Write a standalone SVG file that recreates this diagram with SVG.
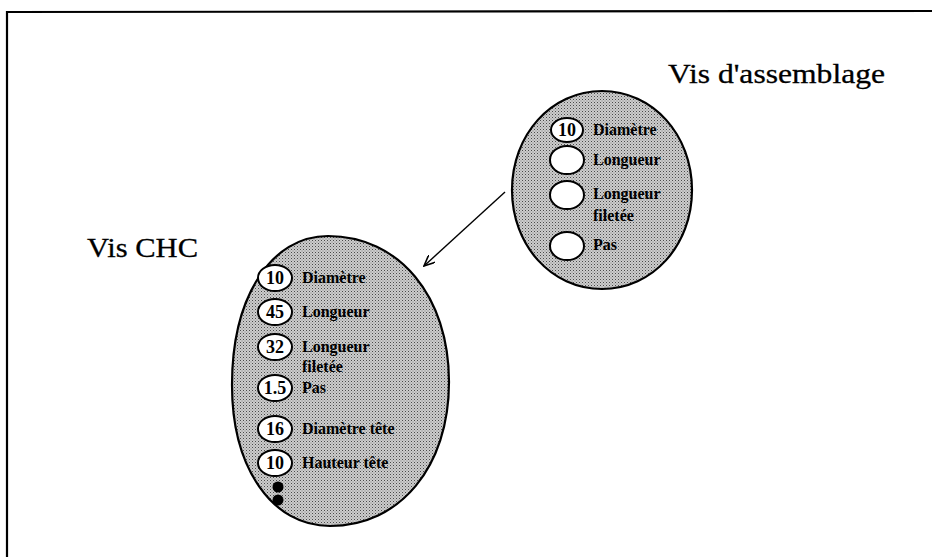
<svg xmlns="http://www.w3.org/2000/svg" width="932" height="557" viewBox="0 0 932 557">
<defs>
<pattern id="dither" width="3" height="3" patternUnits="userSpaceOnUse">
<rect width="3" height="3" fill="#cdcdcd"/>
<rect x="0" y="0" width="1" height="1" fill="#4a4a4a"/>
<rect x="1.5" y="1.5" width="1" height="1" fill="#808080"/>
</pattern>
<marker id="arrow" viewBox="0 0 12 10" refX="11" refY="5" markerWidth="12" markerHeight="10" markerUnits="userSpaceOnUse" orient="auto">
<path d="M0,0 L11,5 L0,10" fill="none" stroke="#000" stroke-width="1.6"/>
</marker>
</defs>
<style>
.big{fill:url(#dither);stroke:#000;stroke-width:2.2}
.val{fill:#fff;stroke:#000;stroke-width:2}
.num{font-family:"Liberation Serif",serif;font-size:18px;font-weight:bold;text-anchor:middle;fill:#000}
.lbl{font-family:"Liberation Serif",serif;font-size:16px;font-weight:bold;fill:#000}
.title{font-family:"Liberation Serif",serif;font-size:28px;fill:#000;stroke:#000;stroke-width:0.3}
.frame{fill:none;stroke:#000;stroke-width:2.2}
</style>
<rect width="932" height="557" fill="#fff"/>
<path class="frame" d="M7,557 L7,12 L932,11"/>
<g id="title-assemblage"><text class="title" x="668" y="83" textLength="217" lengthAdjust="spacingAndGlyphs">Vis d'assemblage</text></g>
<g id="title-chc"><text class="title" x="87" y="257" font-size="26" textLength="111" lengthAdjust="spacingAndGlyphs">Vis CHC</text></g>
<g id="connectors">
<line x1="505" y1="192" x2="424" y2="266" stroke="#000" stroke-width="1.4" marker-end="url(#arrow)"/>
</g>
<g id="vis-assemblage">
<path class="big" d="M602,91 C653,91 692,135 692,190 C692,245 653,289 602,289 C551,289 512,245 512,190 C512,135 551,91 602,91 Z"/>
<ellipse class="val" cx="567" cy="130" rx="16" ry="12"/>
<text class="num" x="567" y="136">10</text>
<text class="lbl" x="593" y="135">Diamètre</text>
<ellipse class="val" cx="567" cy="160" rx="17" ry="14"/>
<text class="lbl" x="593" y="165">Longueur</text>
<ellipse class="val" cx="567" cy="195" rx="17" ry="14"/>
<text class="lbl" x="593" y="199">Longueur</text>
<text class="lbl" x="593" y="221">filetée</text>
<ellipse class="val" cx="567" cy="246" rx="17" ry="14"/>
<text class="lbl" x="593" y="250">Pas</text>
</g>
<g id="vis-chc">
<path class="big" d="M328,236 C399,236 449,296 449,382 C449,467 400,526 330,526 C272,526 232,468 232,385 C232,297 271,236 328,236 Z"/>
<ellipse class="val" cx="275" cy="278" rx="17" ry="13"/>
<text class="num" x="275" y="284">10</text>
<text class="lbl" x="302" y="283">Diamètre</text>
<ellipse class="val" cx="275" cy="312" rx="17" ry="13"/>
<text class="num" x="275" y="318">45</text>
<text class="lbl" x="302" y="317">Longueur</text>
<ellipse class="val" cx="275" cy="347" rx="17" ry="13"/>
<text class="num" x="275" y="353">32</text>
<text class="lbl" x="302" y="352">Longueur</text>
<text class="lbl" x="302" y="372">filetée</text>
<ellipse class="val" cx="275" cy="388" rx="17" ry="13"/>
<text class="num" x="275" y="394">1.5</text>
<text class="lbl" x="302" y="393">Pas</text>
<ellipse class="val" cx="275" cy="429" rx="17" ry="13"/>
<text class="num" x="275" y="435">16</text>
<text class="lbl" x="302" y="434">Diamètre tête</text>
<ellipse class="val" cx="275" cy="463" rx="17" ry="13"/>
<text class="num" x="275" y="469">10</text>
<text class="lbl" x="302" y="468">Hauteur tête</text>
<circle cx="278" cy="487" r="5.5" fill="#000"/>
<circle cx="278" cy="500" r="5.5" fill="#000"/>
</g>
</svg>
